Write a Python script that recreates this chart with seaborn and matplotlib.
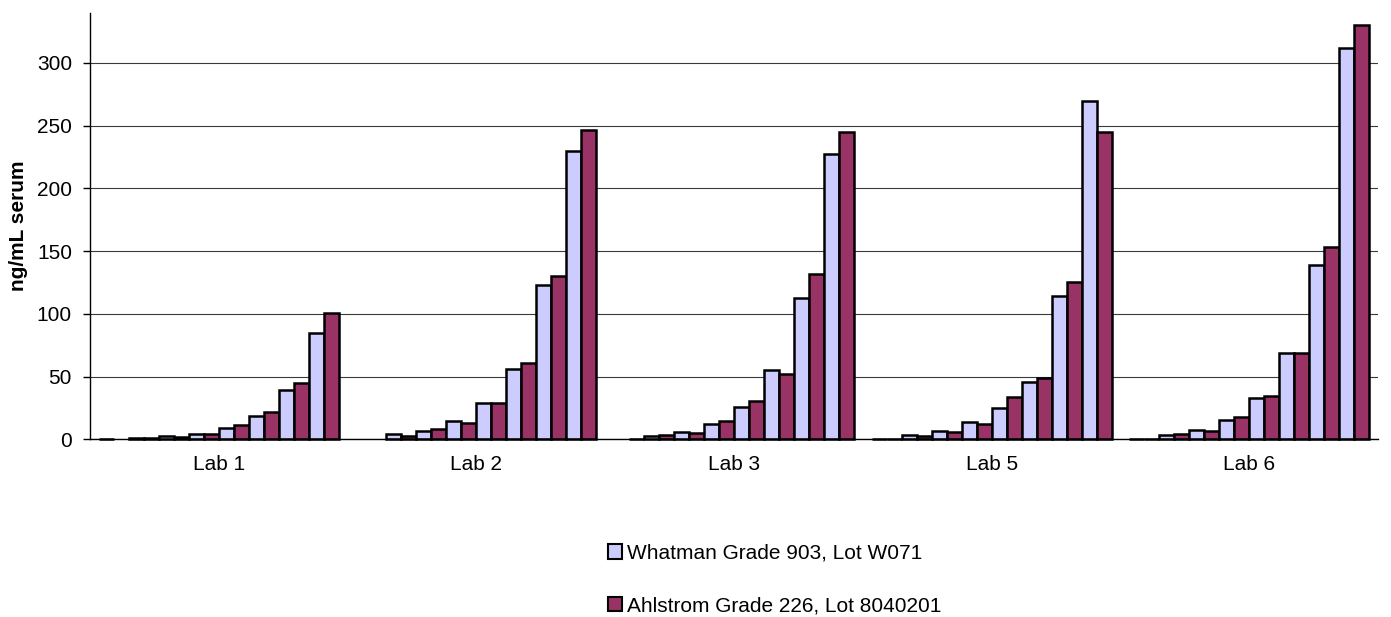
import numpy as np
import pandas as pd
import matplotlib
matplotlib.use("Agg")
import matplotlib.pyplot as plt
from matplotlib.patches import Patch
import seaborn as sns

labs = ["Lab 1", "Lab 2", "Lab 3", "Lab 5", "Lab 6"]
levels = ["L1", "L2", "L3", "L4", "L5", "L6", "L7", "L8"]
papers = ["Whatman Grade 903, Lot W071", "Ahlstrom Grade 226, Lot 8040201"]
nan = np.nan
whatman = {
    "Lab 1": [0.3, 0.8, 2.3, 4.4, 9.4, 18.5, 39.5, 85],
    "Lab 2": [nan, 4.2, 6.8, 14.2, 28.6, 56, 123, 230],
    "Lab 3": [nan, 3.0, 5.7, 12.4, 25.4, 55, 113, 227],
    "Lab 5": [0.4, 3.5, 6.8, 13.4, 24.9, 45.3, 114.5, 270],
    "Lab 6": [0.4, 3.5, 7.6, 15.3, 32.9, 68.5, 139, 312],
}
ahlstrom = {
    "Lab 1": [nan, 0.8, 2.0, 3.9, 11.6, 21.4, 44.5, 101],
    "Lab 2": [nan, 2.6, 8.1, 12.9, 29.1, 60.8, 130.5, 246.5],
    "Lab 3": [0.4, 3.8, 4.9, 14.2, 30.2, 52, 132, 245],
    "Lab 5": [0.4, 2.5, 6.0, 12.4, 33.7, 48.5, 125, 245],
    "Lab 6": [0.4, 4.0, 6.8, 17.7, 34.7, 69, 153.5, 330],
}
colors = {"W": "#CCCCFF", "A": "#993366"}

rows = []
for lab in labs:
    for i, lv in enumerate(levels):
        rows.append({"lab": lab, "hue": f"{lv}-W", "value": whatman[lab][i]})
        rows.append({"lab": lab, "hue": f"{lv}-A", "value": ahlstrom[lab][i]})
df = pd.DataFrame(rows)
hue_order = [f"{lv}-{p}" for lv in levels for p in ("W", "A")]
palette = {h: colors[h[-1]] for h in hue_order}

sns.set_style("white")
plt.rcParams["font.family"] = ["Liberation Sans", "DejaVu Sans"]
plt.rcParams["text.color"] = "black"
plt.rcParams["axes.labelcolor"] = "black"
plt.rcParams["xtick.color"] = "black"
plt.rcParams["ytick.color"] = "black"

fig = plt.figure(figsize=(13.91, 6.17), dpi=100)
ax = fig.add_axes([0.0647, 0.288, 0.926, 0.6914])

sns.barplot(data=df, x="lab", y="value", hue="hue", hue_order=hue_order,
            order=labs, palette=palette, width=0.932, gap=0, dodge=True,
            edgecolor="black", linewidth=1.8, legend=False, ax=ax,
            errorbar=None, saturation=1)
for p in ax.patches:
    p.set_clip_on(False)

ax.set_xlim(-0.5, 4.5)
ax.set_ylim(0, 340)
ax.set_yticks(range(0, 301, 50))
ax.yaxis.grid(True, color="#3a3a3a", linewidth=0.8)
ax.set_axisbelow(True)
for s in ("top", "right"):
    ax.spines[s].set_visible(False)
ax.spines["left"].set_color("black")
ax.spines["bottom"].set_color("black")
ax.spines["left"].set_linewidth(1.0)
ax.spines["bottom"].set_linewidth(1.0)
ax.tick_params(axis="y", left=True, length=5, width=1, color="black",
               labelcolor="black", labelsize=15, pad=8)
ax.tick_params(axis="x", bottom=False, labelcolor="black", labelsize=15, pad=8)
ax.set_xlabel("")
ax.set_ylabel("ng/mL serum", fontsize=15, fontweight="bold", labelpad=6,
              color="black")

handles = [Patch(facecolor=colors["W"], edgecolor="black", linewidth=1.5),
           Patch(facecolor=colors["A"], edgecolor="black", linewidth=1.5)]
fig.legend(handles, papers, loc="center left", bbox_to_anchor=(0.4313, 0.061),
           frameon=False, fontsize=15, labelspacing=1.6, handlelength=0.68,
           handleheight=0.68, handletextpad=0.2, borderaxespad=0,
           labelcolor="black")

fig.savefig("out.png", dpi=100)
